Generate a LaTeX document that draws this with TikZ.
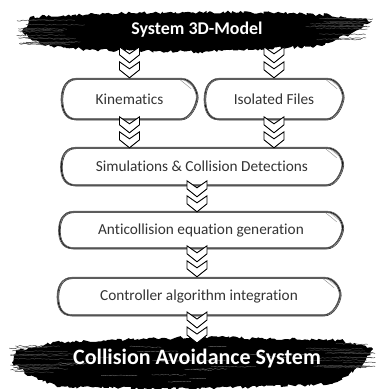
\documentclass[tikz,border=0pt]{standalone}
\usepackage{fontspec}
\setmainfont{Carlito}[Ligatures=NoCommon]
\usetikzlibrary{calc,decorations.pathmorphing}

\tikzset{
  boxtext/.style={inner sep=0pt, text=black!80, font=\fontsize{15.3}{16}\selectfont},
  bandtext/.style={inner sep=0pt, text=white, font=\bfseries},
  brush/.style={fill=black, decorate, decoration={random steps, segment length=2.5pt, amplitude=1.6pt}},
  strand/.style={draw=black!75, line width=0.5pt, decorate, decoration={random steps, segment length=2pt, amplitude=0.6pt}},
  grain/.style={draw=black!55, line width=0.35pt, decorate, decoration={random steps, segment length=2pt, amplitude=0.5pt}},
  chevron/.style={draw=black, fill=white, line width=0.9pt, line join=miter},
  dchev/.pic={
    \path[chevron] (-10,0) -- (0,7) -- (10,0) -- (10,8) -- (0,16) -- (-10,8) -- cycle;
    \path[chevron] (-10,15) -- (0,22) -- (10,15) -- (10,23) -- (0,31) -- (-10,23) -- cycle;
  }
}

% hand-drawn rounded arrow frame around a named node
\newcommand\sketchframe[1]{%
  \foreach \dx/\dy/\lw/\col in {0/0/1.0/black, 1.0/0.8/0.7/black!75, -0.8/0.6/0.6/black!65, 0.5/-0.6/0.55/black!60}{
    \draw[line width=\lw pt, color=\col]
      ($(#1.north west)+(14+\dx,\dy)$) -- ($(#1.north east)+(-16+\dx,\dy)$)
      .. controls ($(#1.north east)+(-6+\dx,\dy)$) and ($(#1.east)+(\dx,-9+\dy)$) .. ($(#1.east)+(\dx,-2+\dy)$)
      .. controls ($(#1.east)+(-0.5+\dx,5+\dy)$) and ($(#1.south east)+(-7+\dx,\dy)$) .. ($(#1.south east)+(-17+\dx,\dy)$)
      -- ($(#1.south west)+(14+\dx,\dy)$)
      .. controls ($(#1.south west)+(3+\dx,\dy)$) and ($(#1.west)+(\dx,9+\dy)$) .. ($(#1.west)+(\dx,\dy)$)
      .. controls ($(#1.west)+(\dx,-9+\dy)$) and ($(#1.north west)+(3+\dx,\dy)$) .. cycle;
  }%
  \draw[black!45, line width=0.4pt] ($(#1.north east)+(-17,1)$) -- ($(#1.north east)+(-6,10)$);
  \draw[black!35, line width=0.4pt] ($(#1.north east)+(-13,1)$) -- ($(#1.north east)+(-4,8)$);
}

\begin{document}
\begin{tikzpicture}[x=1pt,y=-1pt]
\pgfmathsetseed{4217}
\fill[white] (0,0) rectangle (378,389);
\useasboundingbox (0,0) rectangle (378,389);

% top brush band
\fill[brush] (30,17) -- (120,13) -- (250,12) -- (330,15) -- (372,21) -- (352,33) -- (322,46) -- (200,52) -- (90,50) -- (42,45) -- (23,33) -- cycle;
\foreach \i in {1,...,14}{
  \pgfmathsetmacro\ya{18+rnd*28}
  \pgfmathsetmacro\xa{16+rnd*14}
  \draw[strand] (\xa,\ya) -- (\xa+30+rnd*30,\ya+rnd*2-1);
  \pgfmathsetmacro\yb{17+rnd*24}
  \pgfmathsetmacro\xb{360+rnd*14}
  \draw[strand] (\xb,\yb) -- (\xb-30-rnd*30,\yb+rnd*2-1);
}
\node[bandtext, font=\bfseries\fontsize{17.9}{19}\selectfont] (top) at (197,30) {System 3D-Model};

% bottom brush band, with a pencil grain over it
\fill[brush] (16,350) -- (60,342) -- (200,337) -- (340,340) -- (373,349) -- (362,366) -- (332,384) -- (200,389) -- (60,387) -- (30,376) -- (12,362) -- cycle;
\foreach \i in {1,...,14}{
  \pgfmathsetmacro\ya{345+rnd*30}
  \pgfmathsetmacro\xa{8+rnd*12}
  \draw[strand] (\xa,\ya) -- (\xa+30+rnd*30,\ya+rnd*2-1);
  \pgfmathsetmacro\yb{344+rnd*25}
  \pgfmathsetmacro\xb{362+rnd*14}
  \draw[strand] (\xb,\yb) -- (\xb-30-rnd*30,\yb+rnd*2-1);
}
\foreach \i in {1,...,18}{
  \pgfmathsetmacro\yg{345+rnd*38}
  \pgfmathsetmacro\xg{40+rnd*260}
  \draw[grain] (\xg,\yg) -- (\xg+15+rnd*30,\yg+rnd*2-1);
}

% process boxes
\node[boxtext, minimum width=135pt, minimum height=40pt] (kin) at (129.5,99) {Kinematics};
\node[boxtext, minimum width=138pt, minimum height=40pt] (iso) at (274,99) {Isolated Files};
\node[boxtext, minimum width=281pt, minimum height=37pt] (sim) at (202,166.5) {Simulations \& Collision Detections};
\node[boxtext, minimum width=283pt, minimum height=36pt] (anti) at (201,230) {Anticollision equation generation};
\node[boxtext, minimum width=282pt, minimum height=37pt] (ctrl) at (199,296.5) {Controller algorithm integration};
\foreach \n in {kin,iso,sim,anti,ctrl}{\sketchframe{\n}}

% double-chevron connectors
\pic at ($(kin.north)+(0,-32)$) {dchev};
\pic at ($(iso.north)+(0,-32)$) {dchev};
\pic at ($(sim.north -| kin.north)+(0,-31)$) {dchev};
\pic at ($(sim.north -| iso.north)+(0,-31)$) {dchev};
\pic at ($(anti.north -| top.south)+(0,-31)$) {dchev};
\pic at ($(ctrl.north -| top.south)+(0,-32)$) {dchev};
\coordinate (botin) at (197,346);
\pic at ($(botin)+(0,-34)$) {dchev};

\node[bandtext, font=\bfseries\fontsize{22}{24}\selectfont] (bot) at (197,359) {Collision Avoidance System};
\end{tikzpicture}
\end{document}
